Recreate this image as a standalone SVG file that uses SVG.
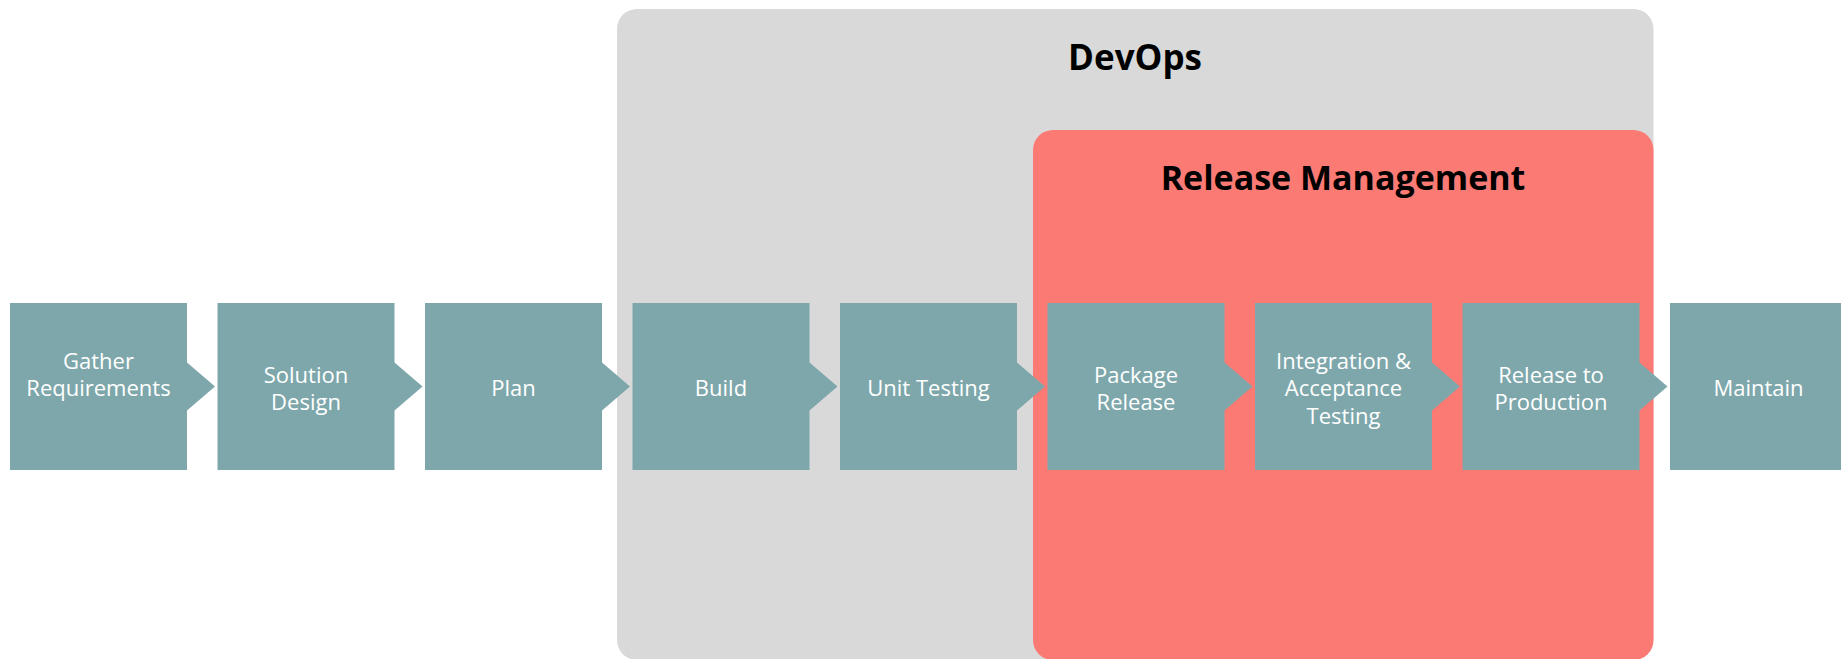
<svg xmlns="http://www.w3.org/2000/svg" width="1841" height="659" viewBox="0 0 1841 659">
<style>
.box{fill:#7ea7ab}
.lbl{fill:#ffffff;font-family:"Open Sans","Liberation Sans",sans-serif;font-size:22px;text-anchor:middle}
.title{fill:#000000;font-family:"Open Sans","Liberation Sans",sans-serif;font-size:34px;font-weight:bold;text-anchor:middle}
</style>
<rect width="1841" height="659" fill="#ffffff"/>
<g id="devops">
<rect x="617" y="9" width="1036.5" height="651" rx="20" fill="#d9d9d9"/>
<text class="title" x="1135" y="70" style="font-size:35px">DevOps</text>
</g>
<g id="release-management">
<rect x="1033" y="130" width="620.5" height="530" rx="20" fill="#fb7b74"/>
<text class="title" x="1343" y="190">Release Management</text>
</g>
<g id="connectors">
<polygon class="box" points="185,362.5 187,362.5 215,386.5 187,410.5 185,410.5"/>
<polygon class="box" points="392.5,362.5 394.5,362.5 422.5,386.5 394.5,410.5 392.5,410.5"/>
<polygon class="box" points="600,362.5 602,362.5 630,386.5 602,410.5 600,410.5"/>
<polygon class="box" points="807.5,362.5 809.5,362.5 837.5,386.5 809.5,410.5 807.5,410.5"/>
<polygon class="box" points="1015,362.5 1017,362.5 1045,386.5 1017,410.5 1015,410.5"/>
<polygon class="box" points="1222.5,362.5 1224.5,362.5 1252.5,386.5 1224.5,410.5 1222.5,410.5"/>
<polygon class="box" points="1430,362.5 1432,362.5 1460,386.5 1432,410.5 1430,410.5"/>
<polygon class="box" points="1637.5,362.5 1639.5,362.5 1667.5,386.5 1639.5,410.5 1637.5,410.5"/>
</g>
<g id="gather-requirements">
<rect class="box" x="10" y="303" width="177" height="167"/>
<text class="lbl" x="98.5" y="368.5">Gather</text>
<text class="lbl" x="98.5" y="396">Requirements</text>
</g>
<g id="solution-design">
<rect class="box" x="217.5" y="303" width="177" height="167"/>
<text class="lbl" x="306" y="382.5">Solution</text>
<text class="lbl" x="306" y="410">Design</text>
</g>
<g id="plan">
<rect class="box" x="425" y="303" width="177" height="167"/>
<text class="lbl" x="513.5" y="396">Plan</text>
</g>
<g id="build">
<rect class="box" x="632.5" y="303" width="177" height="167"/>
<text class="lbl" x="721" y="396">Build</text>
</g>
<g id="unit-testing">
<rect class="box" x="840" y="303" width="177" height="167"/>
<text class="lbl" x="928.5" y="396">Unit Testing</text>
</g>
<g id="package-release">
<rect class="box" x="1047.5" y="303" width="177" height="167"/>
<text class="lbl" x="1136" y="382.5">Package</text>
<text class="lbl" x="1136" y="410">Release</text>
</g>
<g id="integration-acceptance-testing">
<rect class="box" x="1255" y="303" width="177" height="167"/>
<text class="lbl" x="1343.5" y="368.5">Integration &amp;</text>
<text class="lbl" x="1343.5" y="396">Acceptance</text>
<text class="lbl" x="1343.5" y="423.5">Testing</text>
</g>
<g id="release-to-production">
<rect class="box" x="1462.5" y="303" width="177" height="167"/>
<text class="lbl" x="1551" y="382.5">Release to</text>
<text class="lbl" x="1551" y="410">Production</text>
</g>
<g id="maintain">
<rect class="box" x="1670" y="303" width="177" height="167"/>
<text class="lbl" x="1758.5" y="396">Maintain</text>
</g>
</svg>
